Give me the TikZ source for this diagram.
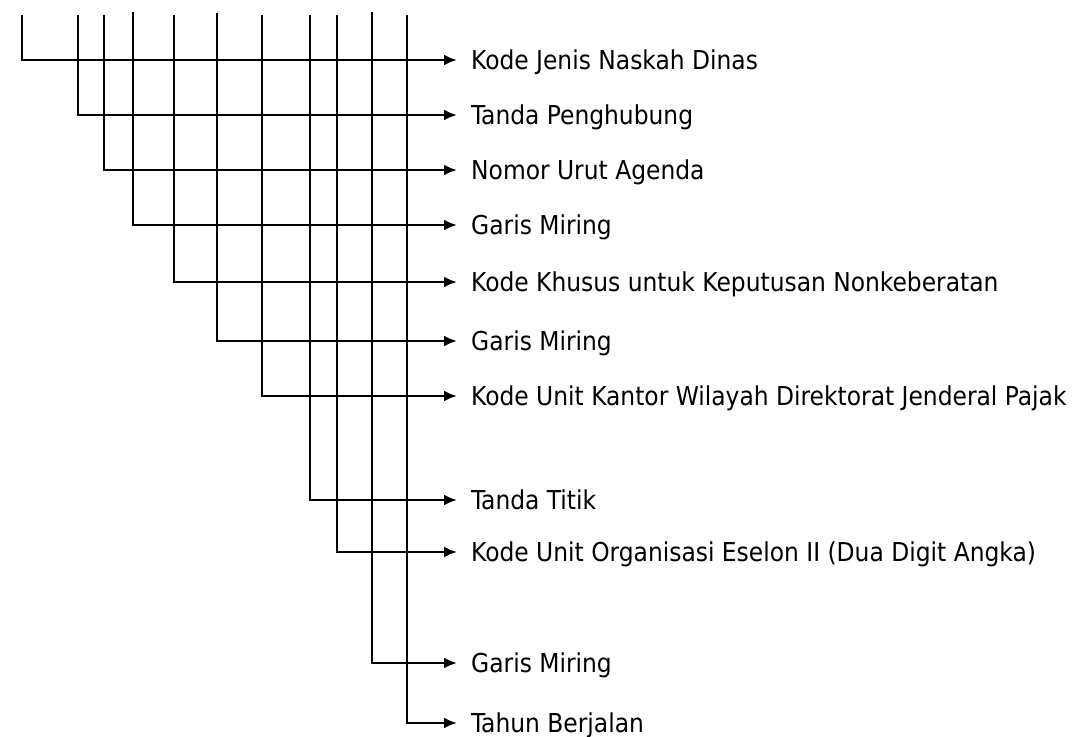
\documentclass[tikz,border=0pt]{standalone}
\usepackage{fontspec}
\setmainfont{DejaVu Sans Condensed}
\usetikzlibrary{arrows.meta}

\tikzset{
  lead/.style={line width=2.4pt, -{Latex[length=13pt,width=11pt]}},
  part/.style={anchor=west, inner xsep=14pt, inner ysep=0pt,
    text height=19pt, text depth=0pt,
    font=\fontsize{26}{30}\selectfont},
}

\begin{document}
\begin{tikzpicture}[x=1pt, y=-1pt]
    \useasboundingbox (0,0) rectangle (1072,737);
    % Tops of the lines
    \coordinate (t1) at (22,15);
    \coordinate (t2) at (78,15);
    \coordinate (t3) at (104,15);
    \coordinate (t4) at (133,12);
    \coordinate (t5) at (174,15);
    \coordinate (t6) at (217,13);
    \coordinate (t7) at (262,15);
    \coordinate (t8) at (310,15);
    \coordinate (t9) at (337,15);
    \coordinate (t10) at (372,12);
    \coordinate (t11) at (407,15);
    % Labels
    \node[part] (jenis) at (457,60) {Kode Jenis Naskah Dinas};
    \node[part] (hubung) at (457,115) {Tanda Penghubung};
    \node[part] (agenda) at (457,170) {Nomor Urut Agenda};
    \node[part] (miring1) at (457,225) {Garis Miring};
    \node[part] (khusus) at (457,282) {Kode Khusus untuk Keputusan Nonkeberatan};
    \node[part] (miring2) at (457,341) {Garis Miring};
    \node[part] (kanwil) at (457,396) {Kode Unit Kantor Wilayah Direktorat Jenderal Pajak};
    \node[part] (titik) at (457,500) {Tanda Titik};
    \node[part] (eselon) at (457,552) {Kode Unit Organisasi Eselon II (Dua Digit Angka)};
    \node[part] (miring3) at (457,663) {Garis Miring};
    \node[part] (tahun) at (457,723) {Tahun Berjalan};
    % Leads
    \draw[lead] (t1) |- (jenis.west);
    \draw[lead] (t2) |- (hubung.west);
    \draw[lead] (t3) |- (agenda.west);
    \draw[lead] (t4) |- (miring1.west);
    \draw[lead] (t5) |- (khusus.west);
    \draw[lead] (t6) |- (miring2.west);
    \draw[lead] (t7) |- (kanwil.west);
    \draw[lead] (t8) |- (titik.west);
    \draw[lead] (t9) |- (eselon.west);
    \draw[lead] (t10) |- (miring3.west);
    \draw[lead] (t11) |- (tahun.west);
\end{tikzpicture}
\end{document}
